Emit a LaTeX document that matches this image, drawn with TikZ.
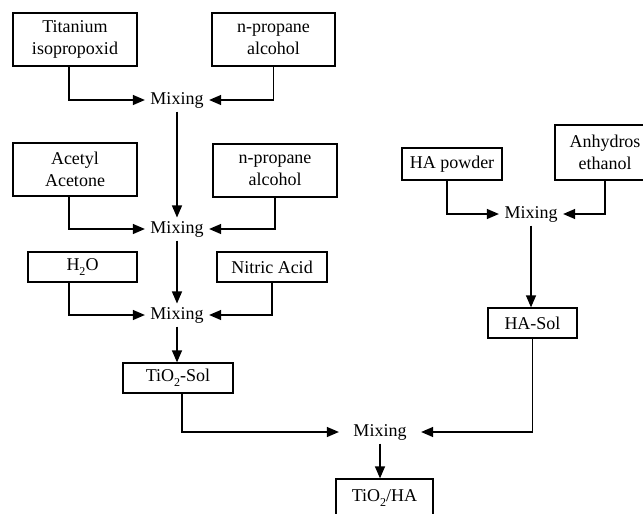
\documentclass[tikz,border=0pt]{standalone}
\usepackage{fontspec}
\setmainfont{Liberation Serif}
\usetikzlibrary{arrows.meta}

\newcommand{\lowtwo}{\raisebox{-0.55ex}{\fontsize{12}{12}\selectfont 2}}

\begin{document}
\begin{tikzpicture}[x=1pt, y=-1pt, line width=1.25pt,
        font=\fontsize{18}{22}\selectfont,
        box/.style={draw, inner sep=0pt, align=center},
        mix/.style={inner xsep=5pt, inner ysep=3pt},
        flow/.style={-{Triangle[length=12pt, width=10pt]}}]
        \useasboundingbox (0,0) rectangle (643,514);
        \clip (0,0) rectangle (643,514);

        % TiO2 sol.
        \draw (75,39.5) node[box, minimum width=124, minimum height=53] (ti) {Titanium\\isopropoxid}
            (273.5,39.5) node[box, minimum width=123, minimum height=53] (np1) {n-propane\\alcohol}
            (177,100) node[mix] (mix1) {Mixing}
            (75,169.5) node[box, minimum width=124, minimum height=53] (ac) {Acetyl\\Acetone}
            (275,170.5) node[box, minimum width=124, minimum height=53] (np2) {n-propane\\alcohol}
            (177,229) node[mix] (mix2) {Mixing}
            (82.5,267) node[box, minimum width=109, minimum height=30] (h2o) {H\lowtwo O}
            (272,267) node[box, minimum width=110, minimum height=30] (nit) {Nitric Acid}
            (177,315) node[mix] (mix3) {Mixing}
            (178,378) node[box, minimum width=110, minimum height=30] (tisol) {TiO\lowtwo-Sol};

        % HA sol.
        \draw (452,164) node[box, minimum width=100, minimum height=32] (hap) {HA powder}
            (605,152.5) node[box, minimum width=100, minimum height=55] (anh) {Anhydros\\ethanol}
            (531,214) node[mix] (mix5) {Mixing}
            (532.5,323) node[box, minimum width=89, minimum height=30] (hasol) {HA-Sol};

        % Final mixing.
        \draw (380,432) node[mix, inner xsep=14pt] (mix4) {Mixing}
            (384.5,498) node[box, minimum width=97, minimum height=38] (tiha) {TiO\lowtwo/HA};

        \coordinate (lcol) at (69,0);

        % Connectors.
        \draw[flow] (ti.south -| lcol) |- (mix1.west);
        \draw[flow] (np1.south) |- (mix1.east);
        \draw[flow] (mix1.south) -- (mix2.north);
        \draw[flow] (ac.south -| lcol) |- (mix2.west);
        \draw[flow] (np2.south) |- (mix2.east);
        \draw[flow] (mix2.south) -- (mix3.north);
        \draw[flow] (h2o.south -| lcol) |- (mix3.west);
        \draw[flow] (nit.south) |- (mix3.east);
        \draw[flow] (mix3.south) -- (mix3.south |- tisol.north);

        \draw[flow] ([xshift=-5pt]hap.south) |- (mix5.west);
        \draw[flow] (anh.south) |- (mix5.east);
        \draw[flow] (mix5.south) -- (mix5.south |- hasol.north);

        \draw[flow] ([xshift=4pt]tisol.south) |- (mix4.west);
        \draw[flow] (hasol.south) |- (mix4.east);
        \draw[flow] (mix4.south) -- (mix4.south |- tiha.north);
    \end{tikzpicture}
\end{document}
